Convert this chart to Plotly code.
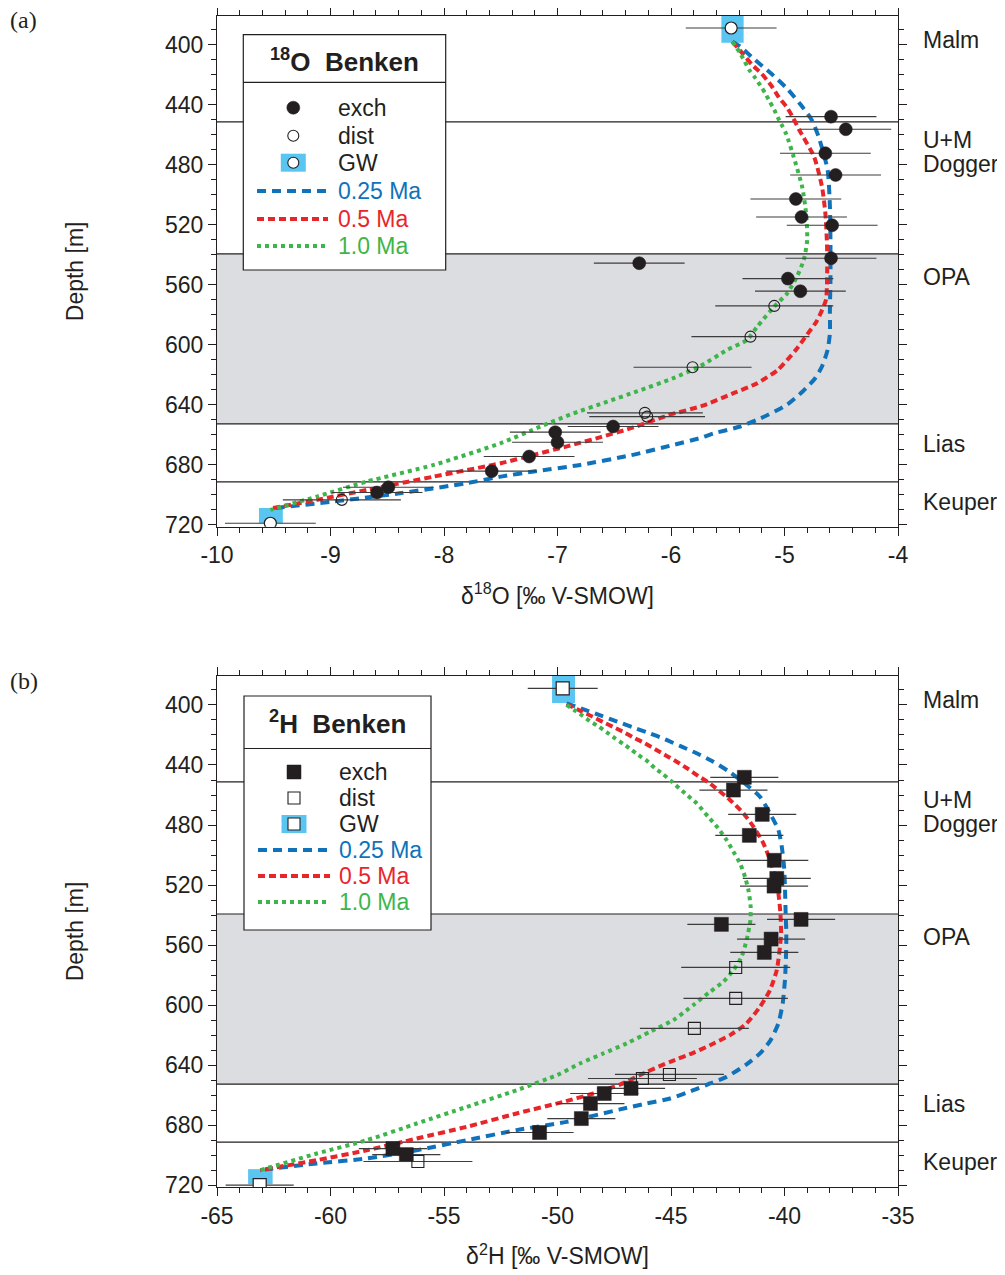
import plotly.graph_objects as go

# ---------------- shared data ----------------
depth_ticks = [400, 440, 480, 520, 560, 600, 640, 680, 720]
depth_range = [721.2, 380.7]
boundary_depths = [451.3, 539.3, 652.7, 691.3]
opa_top, opa_base = 539.3, 652.7
formation_names = ["Malm", "U+M", "Dogger", "OPA", "Lias", "Keuper"]
formation_label_depths = [396.7, 463.3, 479.3, 554.7, 666.0, 704.7]
model_names = ["0.25 Ma", "0.5 Ma", "1.0 Ma"]
point_names = ["exch", "dist", "GW"]

# ---------------- panel (a): delta18O ----------------
a_x_ticks = [-10, -9, -8, -7, -6, -5, -4]
a_x_ticktext = ["-10", "-9", "-8", "-7", "-6", "-5", "-4"]

a_exch_depth = [447.8, 456.2, 472.2, 486.7, 502.7, 514.7, 520.2, 542.2, 545.5, 555.8, 564.2,
                654.4, 658.2, 664.9, 674.4, 684.2, 694.9, 698.4]
a_exch_val = [-4.59, -4.46, -4.64, -4.55, -4.90, -4.85, -4.58, -4.59, -6.28, -4.97, -4.86,
              -6.51, -7.02, -7.00, -7.25, -7.58, -8.49, -8.59]
a_exch_err = [0.40] * 18

a_dist_depth = [574.0, 594.5, 614.9, 645.3, 647.8, 703.3]
a_dist_val = [-5.09, -5.30, -5.81, -6.23, -6.21, -8.90]
a_dist_err = [0.52, 0.52, 0.52, 0.51, 0.51, 0.52]

a_gw_depth = [388.7, 718.9]
a_gw_val = [-5.47, -9.53]
a_gw_err = [0.40, 0.40]
a_gwbox_x0 = [-5.556, -9.63]
a_gwbox_x1 = [-5.36, -9.42]
a_gwbox_d0 = [380.7, 708.7]
a_gwbox_d1 = [398.5, 718.7]

a_m025_depth = [397.8, 401.1, 410.0, 418.9, 428.9, 439.6, 450.0, 461.1, 483.3, 507.8, 530.0,
                556.7, 576.7, 592.2, 603.3, 614.4, 622.2, 631.1, 640.0, 648.9, 654.4, 658.9,
                662.0, 666.7, 673.5, 680.0, 684.4, 687.8, 692.2, 698.9, 704.4, 708.9]
a_m025_val = [-5.46, -5.39, -5.26, -5.12, -4.98, -4.86, -4.76, -4.70, -4.62, -4.60, -4.595,
              -4.595, -4.60, -4.60, -4.62, -4.67, -4.73, -4.84, -4.98, -5.21, -5.39, -5.62,
              -5.74, -5.98, -6.35, -6.80, -7.21, -7.50, -7.80, -8.39, -8.97, -9.50]

a_m05_depth = [397.8, 405.6, 413.3, 419.3, 426.7, 434.9, 441.5, 447.8, 456.7, 474.4, 494.4,
               512.2, 534.4, 556.7, 570.0, 584.0, 593.0, 603.3, 616.7, 625.5, 632.2, 640.5,
               647.0, 655.0, 661.5, 667.5, 673.3, 678.9, 687.8, 696.7, 703.3, 708.9]
a_m05_val = [-5.46, -5.37, -5.285, -5.20, -5.12, -5.05, -4.98, -4.93, -4.87, -4.74, -4.67,
             -4.64, -4.625, -4.625, -4.635, -4.715, -4.80, -4.90, -5.06, -5.24, -5.45, -5.72,
             -6.03, -6.33, -6.62, -6.91, -7.21, -7.50, -8.09, -8.68, -9.12, -9.52]

a_m10_depth = [397.8, 405.6, 411.1, 416.7, 421.8, 427.3, 432.2, 437.8, 443.3, 448.2, 454.0,
               459.3, 474.4, 494.4, 512.2, 530.0, 543.3, 554.4, 565.5, 574.4, 587.8, 596.7,
               603.3, 614.0, 622.2, 631.0, 637.8, 646.5, 654.4, 665.5, 680.0, 691.1, 701.1, 710.0]
a_m10_val = [-5.46, -5.39, -5.35, -5.31, -5.26, -5.21, -5.17, -5.13, -5.09, -5.06, -5.02,
             -4.985, -4.92, -4.845, -4.81, -4.80, -4.83, -4.89, -4.975, -5.09, -5.24, -5.33,
             -5.505, -5.74, -5.98, -6.30, -6.56, -6.89, -7.15, -7.50, -8.09, -8.68, -9.12, -9.53]

# ---------------- panel (b): delta2H ----------------
b_x_ticks = [-65, -60, -55, -50, -45, -40, -35]
b_x_ticktext = ["-65", "-60", "-55", "-50", "-45", "-40", "-35"]

b_exch_depth = [448.2, 456.7, 472.9, 486.9, 503.5, 515.6, 520.7, 542.9, 546.2, 556.0, 564.9,
                655.5, 658.9, 665.6, 675.6, 684.9, 695.6, 699.6]
b_exch_val = [-41.77, -42.25, -40.98, -41.55, -40.45, -40.34, -40.46, -39.27, -42.78, -40.59,
              -40.89, -46.76, -47.94, -48.55, -48.95, -50.79, -57.25, -56.66]
b_exch_err = [1.5] * 18

b_dist_depth = [574.9, 595.5, 615.5, 646.2, 648.9, 704.2]
b_dist_val = [-42.15, -42.15, -43.97, -45.07, -46.26, -56.15]
b_dist_err = [2.4, 2.3, 2.4, 2.4, 2.4, 2.4]

b_gw_depth = [388.9, 720.0]
b_gw_val = [-49.77, -63.12]
b_gw_err = [1.54, 1.5]
b_gwbox_x0 = [-50.24, -63.63]
b_gwbox_x1 = [-49.23, -62.55]
b_gwbox_d0 = [380.7, 709.3]
b_gwbox_d1 = [398.7, 719.3]

b_m025_depth = [398.9, 403.3, 407.1, 411.1, 414.9, 418.5, 422.9, 427.8, 432.2, 437.8, 444.5,
                453.3, 461.1, 472.2, 483.3, 494.5, 507.8, 521.1, 538.9, 552.2, 565.5, 583.3,
                598.9, 612.2, 623.3, 632.2, 640.0, 647.8, 652.2, 656.7, 662.2, 665.5, 669.5,
                677.8, 683.3, 690.0, 696.7, 702.2, 705.5, 709.5]
b_m025_val = [-49.6, -48.79, -48.08, -47.37, -46.69, -46.0, -45.26, -44.53, -43.87, -43.14,
              -42.43, -41.67, -41.08, -40.64, -40.27, -40.12, -40.02, -39.98, -39.95, -39.92,
              -39.93, -39.98, -40.08, -40.27, -40.61, -41.08, -41.72, -42.55, -43.28, -44.02,
              -45.04, -46.07, -47.25, -49.6, -51.8, -54.0, -56.2, -58.4, -60.6, -62.9]

b_m05_depth = [399.5, 403.8, 407.8, 411.5, 414.9, 418.5, 422.2, 425.5, 429.5, 434.0, 437.8,
               442.7, 447.3, 452.2, 463.3, 472.2, 481.1, 492.2, 503.3, 514.5, 525.5, 538.9,
               552.2, 561.1, 576.7, 590.0, 601.1, 612.2, 620.0, 626.7, 631.8, 637.8, 644.5,
               653.0, 658.9, 664.5, 672.2, 681.1, 688.9, 696.7, 703.3, 710.0]
b_m05_val = [-49.6, -49.01, -48.45, -47.98, -47.51, -47.03, -46.59, -46.15, -45.70, -45.19,
             -44.75, -44.24, -43.80, -43.30, -42.40, -41.81, -41.37, -40.93, -40.64, -40.42,
             -40.27, -40.18, -40.15, -40.20, -40.34, -40.64, -41.08, -41.67, -42.40, -43.28,
             -44.02, -45.04, -46.07, -47.25, -48.42, -49.75, -51.8, -54.0, -56.2, -58.4,
             -60.6, -63.1]

b_m10_depth = [400.0, 403.8, 407.3, 411.1, 414.5, 418.2, 422.2, 426.0, 430.0, 433.3, 437.1,
               442.2, 446.2, 450.5, 458.9, 465.5, 474.5, 482.2, 490.0, 497.8, 505.5, 514.5,
               523.3, 534.5, 543.3, 556.7, 567.8, 576.7, 584.5, 591.1, 600.0, 610.0, 617.8,
               625.5, 632.2, 638.9, 646.5, 656.7, 667.8, 678.9, 690.0, 698.9, 710.0]
b_m10_val = [-49.6, -49.23, -48.89, -48.54, -48.17, -47.83, -47.47, -47.10, -46.73, -46.44,
             -46.07, -45.70, -45.34, -45.01, -44.38, -43.87, -43.36, -42.92, -42.55, -42.25,
             -41.96, -41.74, -41.59, -41.49, -41.50, -41.67, -41.89, -42.25, -42.70, -43.28,
             -44.02, -44.90, -45.93, -46.95, -47.98, -49.01, -50.0, -51.8, -54.0, -56.2,
             -58.4, -60.6, -63.1]

# ---------------- styles ----------------
FONT = "Liberation Sans, Arial, Helvetica, sans-serif"
SERIF = "Liberation Serif, Times New Roman, serif"
INK = "#231f20"
BAR = "#3c3c3c"
GW_BLUE = "#5bc5f2"
BAND = "#dcdde0"
model_colors = ["#0f72ba", "#e8262a", "#3db54a"]
model_dash = ["9px,6px", "7px,4px", "4px,4px"]
FS = 23

# the page puts the figure 8 px in from the top-left corner
OFF = 8
W, H = 1005 - OFF, 1275 - OFF
L, R, T, B = 217, 898, 16, 1187          # plot box in page pixels


def fx(px):
    return (px - L) / (R - L)


def fy(py):
    return (B - py) / (B - T)


fig = go.Figure()


def add_panel(xa, ya, models, exch, dist, gw, sym_fill, sym_open):
    for (dep, val), name, col, dash in zip(models, model_names, model_colors, model_dash):
        fig.add_trace(go.Scatter(x=val, y=dep, mode="lines", name=name, showlegend=False,
                                 line=dict(color=col, width=4, dash=dash, shape="spline",
                                           smoothing=0.6),
                                 xaxis=xa, yaxis=ya))
    d, v, e = exch
    fig.add_trace(go.Scatter(x=v, y=d, mode="markers", name=point_names[0], showlegend=False,
                             marker=dict(symbol=sym_fill, size=13 if sym_fill == "circle" else 14,
                                         color=INK, line=dict(color=INK, width=0.5)),
                             error_x=dict(type="data", array=e, color=BAR, thickness=1.2, width=0),
                             xaxis=xa, yaxis=ya))
    d, v, e = dist
    fig.add_trace(go.Scatter(x=v, y=d, mode="markers", name=point_names[1], showlegend=False,
                             marker=dict(symbol=sym_open, size=11 if sym_open == "circle-open" else 12,
                                         color=INK, line=dict(color=INK, width=1.1)),
                             error_x=dict(type="data", array=e, color=BAR, thickness=1.2, width=0),
                             xaxis=xa, yaxis=ya))
    d, v, e = gw
    fig.add_trace(go.Scatter(x=v, y=d, mode="markers", name=point_names[2], showlegend=False,
                             marker=dict(symbol=sym_fill, size=12 if sym_fill == "circle" else 13,
                                         color="white", line=dict(color=INK, width=1.2)),
                             error_x=dict(type="data", array=e, color=BAR, thickness=1.2, width=0),
                             xaxis=xa, yaxis=ya))


add_panel("x", "y",
          [(a_m025_depth, a_m025_val), (a_m05_depth, a_m05_val), (a_m10_depth, a_m10_val)],
          (a_exch_depth, a_exch_val, a_exch_err), (a_dist_depth, a_dist_val, a_dist_err),
          (a_gw_depth, a_gw_val, a_gw_err), "circle", "circle-open")
add_panel("x2", "y2",
          [(b_m025_depth, b_m025_val), (b_m05_depth, b_m05_val), (b_m10_depth, b_m10_val)],
          (b_exch_depth, b_exch_val, b_exch_err), (b_dist_depth, b_dist_val, b_dist_err),
          (b_gw_depth, b_gw_val, b_gw_err), "square", "square-open")

shapes = []
annotations = []

# background band, formation boundaries, GW boxes, formation names
for xr, yr, bx0, bx1, bd0, bd1 in [("x", "y", a_gwbox_x0, a_gwbox_x1, a_gwbox_d0, a_gwbox_d1),
                                   ("x2", "y2", b_gwbox_x0, b_gwbox_x1, b_gwbox_d0, b_gwbox_d1)]:
    shapes.append(dict(type="rect", xref=xr + " domain", yref=yr, x0=0, x1=1, y0=opa_top,
                       y1=opa_base, fillcolor=BAND, line=dict(width=0), layer="below"))
    for bd in boundary_depths:
        shapes.append(dict(type="line", xref=xr + " domain", yref=yr, x0=0, x1=1, y0=bd, y1=bd,
                           line=dict(color=INK, width=1.2), layer="below"))
    for x0, x1, d0, d1 in zip(bx0, bx1, bd0, bd1):
        shapes.append(dict(type="rect", xref=xr, yref=yr, x0=x0, x1=x1, y0=d0, y1=d1,
                           fillcolor=GW_BLUE, line=dict(width=0), layer="below"))
    for name, dep in zip(formation_names, formation_label_depths):
        annotations.append(dict(text=name, xref="paper", x=fx(921), yref=yr, y=dep,
                                xanchor="left", yanchor="middle", showarrow=False,
                                font=dict(family=FONT, size=FS, color=INK)))


# hand-drawn legends (boxed, titled, like the original)
def legend(box, sep_y, title, title_y, rows, sx, lx0, lx1, tx, filled_kind):
    bx0, bx1, by0, by1 = box
    shapes.append(dict(type="rect", xref="paper", yref="paper", x0=fx(bx0), x1=fx(bx1),
                       y0=fy(by1), y1=fy(by0), fillcolor="white",
                       line=dict(color=INK, width=1.2), layer="above"))
    shapes.append(dict(type="line", xref="paper", yref="paper", x0=fx(bx0), x1=fx(bx1),
                       y0=fy(sep_y), y1=fy(sep_y), line=dict(color=INK, width=1.2), layer="above"))
    annotations.append(dict(text=title, xref="paper", yref="paper", x=fx((bx0 + bx1) / 2),
                            y=fy(title_y), xanchor="center", yanchor="middle", showarrow=False,
                            font=dict(family=FONT, size=26, color=INK)))
    kind = "circle" if filled_kind == "circle" else "rect"
    r_f = 6.5 if kind == "circle" else 7
    r_o = 5.5 if kind == "circle" else 6
    y = rows[0]
    shapes.append(dict(type=kind, xref="paper", yref="paper", x0=fx(sx - r_f), x1=fx(sx + r_f),
                       y0=fy(y + r_f), y1=fy(y - r_f), fillcolor=INK, line=dict(color=INK, width=0.5),
                       layer="above"))
    y = rows[1]
    shapes.append(dict(type=kind, xref="paper", yref="paper", x0=fx(sx - r_o), x1=fx(sx + r_o),
                       y0=fy(y + r_o), y1=fy(y - r_o), line=dict(color=INK, width=1.1),
                       layer="above"))
    y = rows[2]
    shapes.append(dict(type="rect", xref="paper", yref="paper", x0=fx(sx - 12.5), x1=fx(sx + 12.5),
                       y0=fy(y + 9), y1=fy(y - 9), fillcolor=GW_BLUE, line=dict(width=0),
                       layer="above"))
    shapes.append(dict(type=kind, xref="paper", yref="paper", x0=fx(sx - r_o), x1=fx(sx + r_o),
                       y0=fy(y + r_o), y1=fy(y - r_o), fillcolor="white",
                       line=dict(color=INK, width=1.1), layer="above"))
    for name, y in zip(point_names, rows[:3]):
        annotations.append(dict(text=name, xref="paper", yref="paper", x=fx(tx), y=fy(y),
                                xanchor="left", yanchor="middle", showarrow=False,
                                font=dict(family=FONT, size=FS, color=INK)))
    for name, col, dash, y in zip(model_names, model_colors, model_dash, rows[3:]):
        shapes.append(dict(type="line", xref="paper", yref="paper", x0=fx(lx0), x1=fx(lx1),
                           y0=fy(y), y1=fy(y), line=dict(color=col, width=4, dash=dash),
                           layer="above"))
        annotations.append(dict(text=name, xref="paper", yref="paper", x=fx(tx), y=fy(y),
                                xanchor="left", yanchor="middle", showarrow=False,
                                font=dict(family=FONT, size=FS, color=col)))


legend((243.3, 445.7, 34.7, 270), 82.3, "<b><sup>18</sup>O\u00a0\u00a0Benken</b>", 60,
       [107.7, 135.7, 162.7, 191, 219, 246], 293.3, 257, 328, 335.7, "circle")
legend((244, 431, 696, 930), 748.5, "<b><sup>2</sup>H\u00a0\u00a0Benken</b>", 723,
       [772, 798, 824, 850, 876, 902], 294, 258, 330, 337, "square")

# panel labels
annotations.append(dict(text="(a)", xref="paper", yref="paper", x=fx(8), y=fy(20),
                        xanchor="left", yanchor="middle", showarrow=False,
                        font=dict(family=SERIF, size=24, color=INK)))
annotations.append(dict(text="(b)", xref="paper", yref="paper", x=fx(8), y=fy(681),
                        xanchor="left", yanchor="middle", showarrow=False,
                        font=dict(family=SERIF, size=24, color=INK)))

axis_common = dict(showline=True, linecolor=INK, linewidth=1.2, mirror="allticks",
                   ticks="outside", ticklen=8, tickwidth=1.1, tickcolor=INK,
                   showgrid=False, zeroline=False, automargin=False,
                   tickfont=dict(family=FONT, size=FS, color=INK))

ya_dom = (B - 526.7) / (B - T)
yb_dom = (B - 676) / (B - T)

fig.update_layout(
    width=W, height=H,
    margin=dict(l=L - OFF, r=1005 - R, t=T - OFF, b=1275 - B),
    paper_bgcolor="white", plot_bgcolor="rgba(0,0,0,0)",
    showlegend=False,
    xaxis=dict(domain=[0, 1], anchor="y", range=[-10, -4], tickmode="array",
               tickvals=a_x_ticks, ticktext=a_x_ticktext,
               minor=dict(dtick=0.2, tick0=-10, ticks="outside", ticklen=5, tickcolor=INK, tickwidth=1),
               title=dict(text="\u03b4<sup>18</sup>O [\u2030 V-SMOW]", standoff=20,
                          font=dict(family=FONT, size=FS, color=INK)),
               **axis_common),
    yaxis=dict(domain=[ya_dom, 1], anchor="x", range=depth_range, tickmode="array",
               tickvals=depth_ticks,
               minor=dict(dtick=10, tick0=400, ticks="outside", ticklen=5, tickcolor=INK, tickwidth=1),
               title=dict(text="Depth [m]", standoff=74, font=dict(family=FONT, size=FS, color=INK)),
               **axis_common),
    xaxis2=dict(domain=[0, 1], anchor="y2", range=[-65, -35], tickmode="array",
                tickvals=b_x_ticks, ticktext=b_x_ticktext,
                minor=dict(dtick=1, tick0=-65, ticks="outside", ticklen=5, tickcolor=INK, tickwidth=1),
                title=dict(text="\u03b4<sup>2</sup>H [\u2030 V-SMOW]", standoff=20,
                           font=dict(family=FONT, size=FS, color=INK)),
                **axis_common),
    yaxis2=dict(domain=[0, yb_dom], anchor="x2", range=depth_range, tickmode="array",
                tickvals=depth_ticks,
                minor=dict(dtick=10, tick0=400, ticks="outside", ticklen=5, tickcolor=INK, tickwidth=1),
                title=dict(text="Depth [m]", standoff=74, font=dict(family=FONT, size=FS, color=INK)),
                **axis_common),
    shapes=shapes,
    annotations=annotations,
)

fig.write_html("out.html")
